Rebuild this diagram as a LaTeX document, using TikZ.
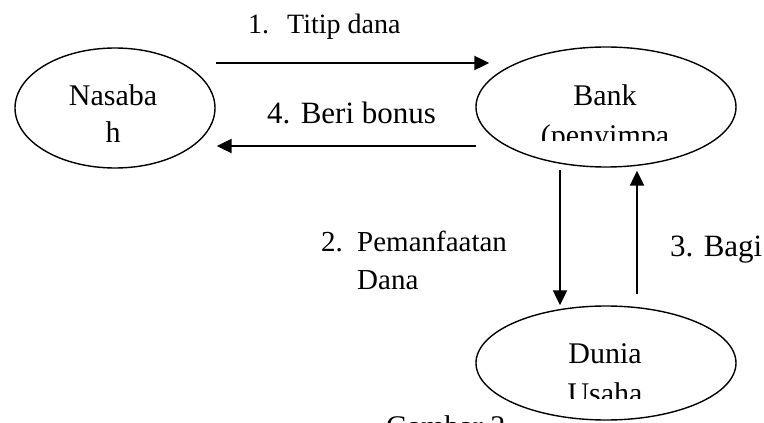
\documentclass[tikz,border=0pt]{standalone}
\usepackage{fontspec}
\setmainfont{Liberation Serif}
\usetikzlibrary{arrows.meta,calc,shapes.geometric}

\begin{document}
\begin{tikzpicture}[x=1pt,y=-1pt,
  party/.style={draw=black,line width=1.4pt,ellipse,inner sep=0pt},
  partytext/.style={align=center,anchor=base,inner sep=0pt,font=\fontsize{30}{40}\selectfont},
  lbl/.style={anchor=base west,inner sep=0pt,align=left},
  arr/.style={-{Triangle[length=15pt,width=14pt]},draw=black,line width=2.2pt}
]
\clip (0,0) rectangle (764,423);
\fill[white] (0,0) rectangle (764,423);

\node[party,minimum width=200,minimum height=120] (nasabah) at (115,108) {};
\node[party,minimum width=260,minimum height=120] (bank) at (606,107) {};
\node[party,minimum width=260,minimum height=114] (dunia) at (606,363) {};

% base anchor sits on the last line
\node[partytext,font=\fontsize{30}{37}\selectfont] (nasabahText) at (113,142) {Nasaba\\h};
\begin{scope}
  \clip (470,40) rectangle (745,140);
  \node[partytext] (bankText) at (605,145) {Bank\\(penyimpa};
\end{scope}
\begin{scope}
  \clip (470,300) rectangle (745,398);
  \node[partytext] (duniaText) at (605,403) {Dunia\\Usaha};
\end{scope}

\node[lbl,font=\fontsize{28}{34}\selectfont] (titipLabel) at (248,34) {\makebox[39pt][l]{1.}Titip dana};
\node[lbl,font=\fontsize{31}{37}\selectfont] (bonusLabel) at (267,123) {4. Beri bonus};
\node[lbl,font=\fontsize{29}{38}\selectfont,anchor=south west] (pemanfaatanLabel) at (321,290) {\makebox[36pt][l]{2.}Pemanfaatan\\\makebox[36pt][l]{}Dana};
\node[lbl,font=\fontsize{31}{37}\selectfont] (bagiLabel) at (670,256) {3. Bagi};
\node[lbl,font=\fontsize{30}{36}\selectfont] (caption) at (386,436) {Gambar 2};

\draw[arr] ($(nasabah.east)+(0,-45)$) -- ($(bank.west)+(14,-44)$);
\draw[arr] ($(bank.west)+(1,39)$) -- ($(nasabah.east)+(1,38)$);
\draw[arr] ($(bank.south)+(-46,2)$) -- ($(dunia.north)+(-46,0)$);
\draw[arr] ($(dunia.north)+(31,-11)$) -- ($(bank.south)+(31,3)$);
\end{tikzpicture}
\end{document}
